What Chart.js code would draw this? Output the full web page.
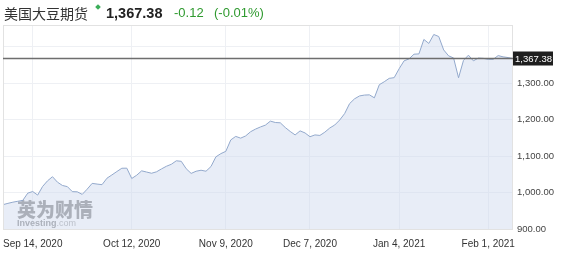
<!DOCTYPE html>
<html>
<head>
<meta charset="utf-8">
<script src="https://cdn.jsdelivr.net/npm/chart.js@4.4.1/dist/chart.umd.min.js"></script>
<style>
    body { margin: 0; background: #fff; }
    #wrap { position: relative; width: 567px; height: 257px; }
    #head { position: absolute; left: 4px; top: 3px; height: 20px; white-space: nowrap; font-family: Arial, "Liberation Sans", sans-serif; }
    #head span { position: absolute; top: 0; line-height: 20px; }
    .name { left: 0; font-family: "Noto Sans CJK SC", sans-serif; font-size: 14px; color: #333; }
    .dot { left: 92px !important; top: 2px !important; width: 4px; height: 4px; background: #3cae5a; transform: rotate(45deg); }
    .last { left: 102px; font-size: 14.5px; font-weight: bold; color: #222; }
    .chg { font-size: 13px; color: #2f9a2f; }
</style>
</head>
<body>
<div id="wrap">
    <canvas id="chart" width="567" height="257"></canvas>
    <div id="head">
        <span class="name" id="name"></span>
        <span class="dot"></span>
        <span class="last" id="last"></span>
        <span class="chg" id="chg" style="left:170px"></span>
        <span class="chg" id="pct" style="left:210px"></span>
    </div>
</div>
<script>
const title = "美国大豆期货";
const lastPrice = 1367.38;
const change = -0.12;
const changePct = -0.01;

const dates = [
    "Sep 3, 2020", "Sep 4, 2020", "Sep 8, 2020", "Sep 9, 2020", "Sep 10, 2020", "Sep 11, 2020",
    "Sep 14, 2020", "Sep 15, 2020", "Sep 16, 2020", "Sep 17, 2020", "Sep 18, 2020",
    "Sep 21, 2020", "Sep 22, 2020", "Sep 23, 2020", "Sep 24, 2020", "Sep 25, 2020",
    "Sep 28, 2020", "Sep 29, 2020", "Sep 30, 2020", "Oct 1, 2020", "Oct 2, 2020",
    "Oct 5, 2020", "Oct 6, 2020", "Oct 7, 2020", "Oct 8, 2020", "Oct 9, 2020",
    "Oct 12, 2020", "Oct 13, 2020", "Oct 14, 2020", "Oct 15, 2020", "Oct 16, 2020",
    "Oct 19, 2020", "Oct 20, 2020", "Oct 21, 2020", "Oct 22, 2020", "Oct 23, 2020",
    "Oct 26, 2020", "Oct 27, 2020", "Oct 28, 2020", "Oct 29, 2020",
    "Nov 2, 2020", "Nov 3, 2020", "Nov 4, 2020", "Nov 5, 2020", "Nov 6, 2020",
    "Nov 9, 2020", "Nov 10, 2020", "Nov 12, 2020", "Nov 13, 2020",
    "Nov 16, 2020", "Nov 17, 2020", "Nov 18, 2020", "Nov 19, 2020", "Nov 20, 2020",
    "Nov 23, 2020", "Nov 24, 2020", "Nov 25, 2020",
    "Nov 30, 2020", "Dec 1, 2020", "Dec 2, 2020", "Dec 3, 2020", "Dec 4, 2020",
    "Dec 7, 2020", "Dec 8, 2020", "Dec 9, 2020", "Dec 10, 2020", "Dec 11, 2020",
    "Dec 14, 2020", "Dec 15, 2020", "Dec 16, 2020", "Dec 17, 2020", "Dec 18, 2020",
    "Dec 21, 2020", "Dec 22, 2020", "Dec 23, 2020", "Dec 24, 2020",
    "Dec 28, 2020", "Dec 29, 2020", "Dec 30, 2020", "Dec 31, 2020",
    "Jan 4, 2021", "Jan 5, 2021", "Jan 6, 2021", "Jan 7, 2021", "Jan 8, 2021",
    "Jan 11, 2021", "Jan 12, 2021", "Jan 13, 2021", "Jan 14, 2021",
    "Jan 19, 2021", "Jan 20, 2021", "Jan 21, 2021", "Jan 22, 2021",
    "Jan 25, 2021", "Jan 26, 2021", "Jan 27, 2021", "Jan 28, 2021", "Jan 29, 2021",
    "Feb 1, 2021", "Feb 2, 2021", "Feb 3, 2021", "Feb 4, 2021", "Feb 5, 2021",
    "Feb 8, 2021"
];

const prices = [
    966.7, 970.3, 973.5, 976.0, 978.4, 998.3,
    1002.7, 992.9, 1016.6, 1032.1, 1043.3,
    1028.3, 1019.3, 1016.1, 1002.4, 1001.9,
    994.8, 1009.2, 1025.0, 1023.1, 1021.5,
    1039.2, 1048.2, 1057.5, 1066.5, 1066.7,
    1038.4, 1047.4, 1059.4, 1056.1, 1052.8,
    1056.7, 1064.6, 1071.9, 1077.4, 1086.9,
    1085.5, 1065.1, 1052.3, 1058.3,
    1061.0, 1058.3, 1071.1, 1097.8, 1106.5,
    1112.8, 1144.1, 1153.7, 1149.0,
    1155.0, 1166.5, 1173.8, 1179.6, 1184.7,
    1195.6, 1191.8, 1191.0,
    1178.2, 1167.3, 1157.8, 1168.9, 1163.2,
    1152.8, 1157.8, 1156.4, 1165.4, 1176.8,
    1185.0, 1198.6, 1216.3, 1243.6, 1256.7,
    1264.6, 1267.0, 1267.6, 1259.4,
    1295.4, 1303.5, 1312.8, 1314.7,
    1339.0, 1360.8, 1366.2, 1379.0, 1379.8,
    1419.4, 1408.5, 1433.0, 1427.5,
    1390.7, 1374.4, 1368.7, 1314.4,
    1362.1, 1376.3, 1360.8, 1368.4, 1367.6,
    1364.9, 1364.9, 1375.2, 1371.7, 1369.8,
    1367.38
];

const tickDates = ["Sep 14, 2020", "Oct 12, 2020", "Nov 9, 2020", "Dec 7, 2020", "Jan 4, 2021", "Feb 1, 2021"];
const yTicks = [900, 1000, 1100, 1200, 1300];

function fmt(v) {
    return v.toLocaleString("en-US", {minimumFractionDigits: 2, maximumFractionDigits: 2});
}

document.querySelector("#name").textContent = title;
document.querySelector("#last").textContent = fmt(lastPrice);
document.querySelector("#chg").textContent = change.toFixed(2);
document.querySelector("#pct").textContent = "(" + changePct.toFixed(2) + "%)";

// watermark, plot border and the last-price line with its label box
const decorations = {
    id: "decorations",
    beforeDatasetsDraw(chart) {
        const {ctx, chartArea: a} = chart;
        ctx.save();
        ctx.globalAlpha = 0.8;
        ctx.fillStyle = "#757575";
        ctx.font = "900 19px 'Noto Sans CJK SC'";
        ctx.textBaseline = "alphabetic";
        ctx.fillText("英为财情", a.left + 14, a.bottom - 12);
        ctx.font = "bold 9px Arial";
        ctx.fillText("Investing", a.left + 14, a.bottom - 3);
        const w = ctx.measureText("Investing").width;
        ctx.font = "9px Arial";
        ctx.fillStyle = "#999";
        ctx.fillText(".com", a.left + 14 + w, a.bottom - 3);
        ctx.restore();
    },
    afterDatasetsDraw(chart) {
        const {ctx, chartArea: a, scales} = chart;
        ctx.save();
        ctx.strokeStyle = "#e2e2e2";
        ctx.lineWidth = 1;
        ctx.strokeRect(a.left + 0.5, a.top + 0.5, a.right - a.left - 1, a.bottom - a.top);
        const y = Math.round(scales.y.getPixelForValue(lastPrice)) + 0.5;
        ctx.strokeStyle = "#6e6e6e";
        ctx.lineWidth = 1.5;
        ctx.beginPath();
        ctx.moveTo(a.left, y);
        ctx.lineTo(a.right, y);
        ctx.stroke();
        ctx.fillStyle = "#1e1e1e";
        ctx.fillRect(a.right, y - 7, 40, 14);
        ctx.fillStyle = "#fff";
        ctx.font = "9.5px Arial";
        ctx.textBaseline = "middle";
        ctx.fillText(fmt(lastPrice), a.right + 2, y + 0.5);
        ctx.restore();
    }
};

new Chart(document.getElementById("chart"), {
    type: "line",
    data: {
        labels: dates,
        datasets: [{
            data: prices,
            borderColor: "#93a9cc",
            borderWidth: 1,
            backgroundColor: "rgba(205,216,238,0.45)",
            fill: "start",
            pointRadius: 0,
            tension: 0
        }]
    },
    options: {
        responsive: false,
        animation: false,
        layout: {padding: {top: 25, left: 3, right: 0, bottom: 0}},
        plugins: {legend: {display: false}, tooltip: {enabled: false}},
        scales: {
            x: {
                offset: false,
                grid: {color: "#eef0f4", drawTicks: false},
                border: {display: false},
                ticks: {
                    autoSkip: false,
                    maxRotation: 0,
                    padding: 9,
                    color: "#333",
                    font: {family: "Arial", size: 10},
                    callback(value) {
                        const d = dates[value];
                        return tickDates.includes(d) ? d : null;
                    }
                },
                afterFit(scale) {
                    scale.height = 28;
                    scale.paddingLeft = 0;
                    scale.paddingRight = 0;
                }
            },
            y: {
                position: "right",
                min: 900,
                max: 1459,
                grid: {color: "#eef0f4", drawTicks: false},
                border: {display: false},
                ticks: {
                    stepSize: 100,
                    includeBounds: false,
                    padding: 4,
                    color: "#444",
                    font: {family: "Arial", size: 9.5},
                    callback(value) {
                        return yTicks.includes(value) ? fmt(value) : "";
                    }
                },
                afterFit(scale) { scale.width = 54; }
            }
        }
    },
    plugins: [decorations]
});
</script>
</body>
</html>
